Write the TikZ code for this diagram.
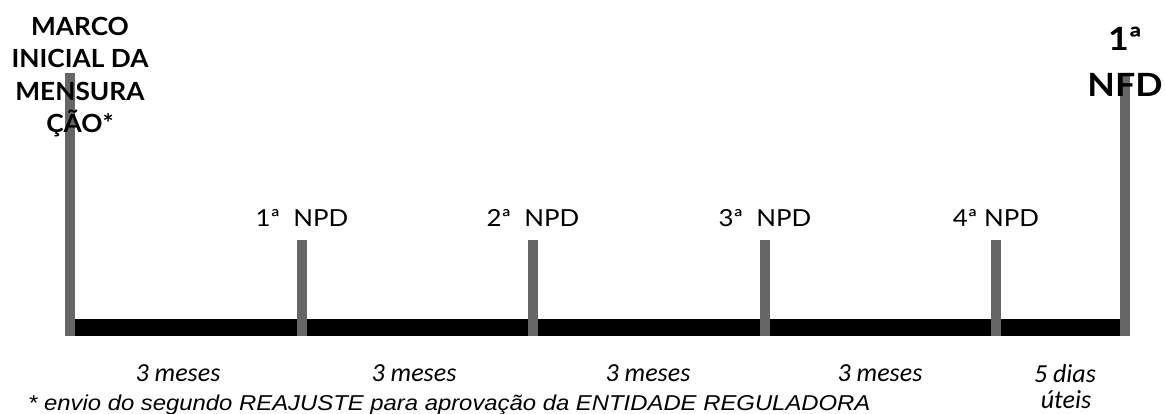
\documentclass[tikz,border=0pt]{standalone}
\usepackage{fontspec}
\setmainfont{Lato}
\newfontfamily\titlefont{Lato}[FakeStretch=1.05]
\newfontfamily\nfdfont{Lato}[FakeStretch=1.12]
\newfontfamily\npdfont{Lato}[FakeStretch=1.1]
\newfontfamily\carlito{Carlito}
\newfontfamily\notefont{Liberation Sans}[FakeStretch=1.11]
\definecolor{bargray}{HTML}{666666}
\tikzset{
  gbar/.style={fill=bargray, draw=none},
  bbar/.style={fill=black, draw=none},
  titletxt/.style={font=\titlefont\fontsize{25}{32.5}\selectfont\bfseries, align=center, inner sep=0pt},
  nfdtxt/.style={font=\nfdfont\fontsize{32}{46}\selectfont\bfseries, align=center, inner sep=0pt},
  npdtxt/.style={font=\npdfont\fontsize{23.5}{28}\selectfont, inner sep=0pt, anchor=base},
  durtxt/.style={font=\carlito\itshape\fontsize{26}{26}\selectfont, inner sep=0pt, anchor=base, align=center},
  notetxt/.style={font=\notefont\itshape\fontsize{21.5}{26}\selectfont, inner sep=0pt, anchor=base west},
}
\begin{document}
\begin{tikzpicture}[x=1pt,y=-1pt]
\useasboundingbox (0,0) rectangle (1165,414);
% main black bar
\fill[bbar] (75,319) rectangle (1120,336);
% gray bars
\fill[gbar] (65,73) rectangle (75,336);
\fill[gbar] (297,240) rectangle (307,336);
\fill[gbar] (528,240) rectangle (538,336);
\fill[gbar] (760,240) rectangle (770,336);
\fill[gbar] (991,240) rectangle (1001,336);
\fill[gbar] (1120,74) rectangle (1130,336);
% title
\node[titletxt, anchor=north] (title) at (80,17) {MARCO\\INICIAL DA\\MENSURA\\ÇÃO*};
\node[nfdtxt, anchor=north] (nfd) at (1125,27) {1ª\\NFD};
% NPD labels
\node[npdtxt] (npd1) at (302,227) {1ª\ \ NPD};
\node[npdtxt] (npd2) at (533,227) {2ª\ \ NPD};
\node[npdtxt] (npd3) at (765,227) {3ª\ \ NPD};
\node[npdtxt] (npd4) at (996,227) {4ª NPD};
% durations
\node[durtxt] (d1) at (178,381) {3 meses};
\node[durtxt] (d2) at (414,381) {3 meses};
\node[durtxt] (d3) at (648,381) {3 meses};
\node[durtxt] (d4) at (880,381) {3 meses};
\node[durtxt] (d5) at (1065,382) {5 dias};
\node[durtxt] (d6) at (1066,408) {úteis};
% note
\node[notetxt] (note) at (28,410) {* envio do segundo REAJUSTE para aprovação da ENTIDADE REGULADORA};
\end{tikzpicture}
\end{document}
